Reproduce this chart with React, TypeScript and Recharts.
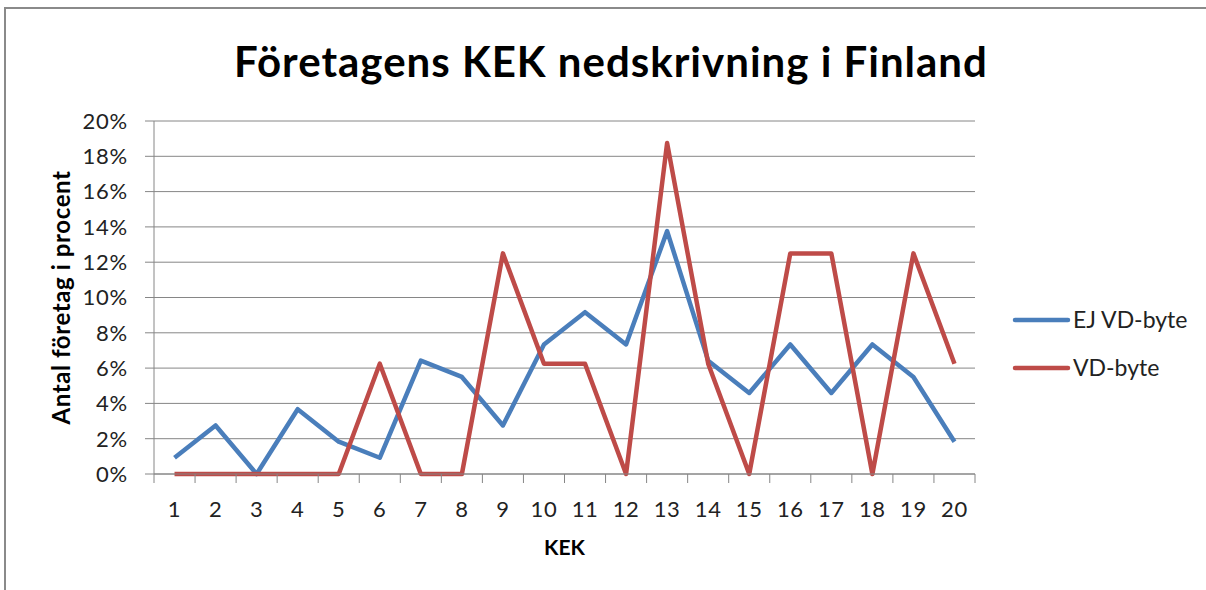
import { LineChart, Line, XAxis, YAxis, CartesianGrid, Label } from 'recharts'

const kek = [1, 2, 3, 4, 5, 6, 7, 8, 9, 10, 11, 12, 13, 14, 15, 16, 17, 18, 19, 20]
const ejVdByte = [0.92, 2.75, 0, 3.67, 1.83, 0.92, 6.42, 5.5, 2.75, 7.34, 9.17, 7.34, 13.76, 6.42, 4.59, 7.34, 4.59, 7.34, 5.5, 1.83]
const vdByte = [0, 0, 0, 0, 0, 6.25, 0, 0, 12.5, 6.25, 6.25, 0, 18.75, 6.25, 0, 12.5, 12.5, 0, 12.5, 6.25]
const yTicks = [0, 2, 4, 6, 8, 10, 12, 14, 16, 18, 20]

const series = [
  { key: 'ej', name: 'EJ VD-byte', color: '#4a7ebb' },
  { key: 'vd', name: 'VD-byte', color: '#be4b48' },
]

const data = kek.map((k, i) => ({ kek: k, ej: ejVdByte[i], vd: vdByte[i] }))
// labels on whole numbers, tick marks between categories
const xTicks = [kek[0] - 0.5, ...kek.flatMap((k) => [k, k + 0.5])]

const FONT = 'Lato, "Open Sans", sans-serif'
const GRAY = '#868686'

function XTick(props: any) {
  const { x, y, payload } = props
  const v = payload.value
  if (Number.isInteger(v)) {
    return (
      <text x={x} y={y + 43} textAnchor="middle" fontFamily={FONT} fontSize={22} letterSpacing={0.6} fill="#222">
        {v}
      </text>
    )
  }
  return <line x1={x} x2={x} y1={y} y2={y + 9} stroke={GRAY} />
}

export default function App() {
  return (
    <div style={{ position: 'relative', width: 1206, height: 590, background: '#fff', overflow: 'hidden' }}>
      <style>{'body{margin:0}'}</style>
      <LineChart
        width={1206}
        height={590}
        data={data}
        margin={{ top: 121, right: 231, bottom: 0, left: 0 }}
      >
        <CartesianGrid vertical={false} stroke={GRAY} />
        <XAxis
          dataKey="kek"
          type="number"
          domain={[0.5, 20.5]}
          ticks={xTicks}
          interval={0}
          tick={<XTick />}
          tickLine={false}
          tickSize={0}
          tickMargin={0}
          height={116}
          axisLine={{ stroke: GRAY }}
        >
          <Label
            value="KEK"
            position="insideTop"
            offset={66}
            style={{ fontFamily: FONT, fontSize: 21, fontWeight: 700, fill: '#000' }}
          />
        </XAxis>
        <YAxis
          domain={[0, 20]}
          ticks={yTicks}
          interval={0}
          width={154}
          tickFormatter={(v) => `${v}%`}
          tickSize={9}
          tickMargin={17}
          tickLine={{ stroke: GRAY }}
          axisLine={{ stroke: GRAY }}
          tick={{ fontFamily: FONT, fontSize: 22, letterSpacing: 0.8, fill: '#222' }}
        >
          <Label
            value="Antal företag i procent"
            angle={-90}
            position="center"
            dx={-16}
            style={{ fontFamily: FONT, fontSize: 24, fontWeight: 700, letterSpacing: 0.6, fill: '#000', textAnchor: 'middle' }}
          />
        </YAxis>
        {series.map((s) => (
          <Line
            key={s.key}
            dataKey={s.key}
            name={s.name}
            stroke={s.color}
            strokeWidth={4.5}
            dot={false}
            activeDot={false}
            strokeLinejoin="round"
            isAnimationActive={false}
          />
        ))}
      </LineChart>
      <svg
        width={1206}
        height={590}
        style={{ position: 'absolute', left: 0, top: 0, pointerEvents: 'none' }}
      >
        <rect x={5} y={8} width={1260} height={640} fill="none" stroke="#8a8a8a" strokeWidth={2} />
        <text x={611} y={77} textAnchor="middle" fontFamily={FONT} fontSize={42} fontWeight={700} letterSpacing={1} fill="#000">
          Företagens KEK nedskrivning i Finland
        </text>
        {series.map((s, i) => (
          <g key={s.key}>
            <line x1={1015} x2={1068} y1={320 + i * 48} y2={320 + i * 48} stroke={s.color} strokeWidth={4.5} strokeLinecap="round" />
            <text x={1073} y={328 + i * 48} fontFamily={FONT} fontSize={23} fill="#222">
              {s.name}
            </text>
          </g>
        ))}
      </svg>
    </div>
  )
}
